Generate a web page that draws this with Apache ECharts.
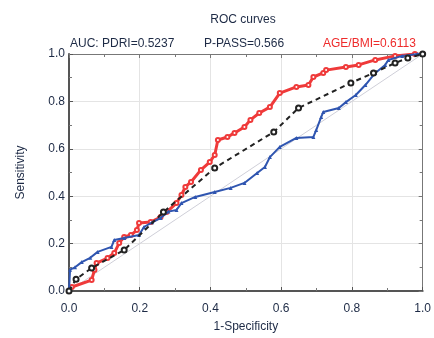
<!DOCTYPE html>
<html>
<head>
<meta charset="utf-8">
<script src="https://cdn.jsdelivr.net/npm/echarts@6/dist/echarts.min.js"></script>
<style>
  html, body { margin: 0; padding: 0; background: #fff; }
  #chart { width: 434px; height: 338px; }
</style>
</head>
<body>
<div id="chart"></div>
<script>
// ROC curve points [1-specificity, sensitivity]
const pdriPoints = [
  [0, 0], [0.003, 0.09], [0.017, 0.10], [0.036, 0.122], [0.06, 0.14], [0.081, 0.165],
  [0.12, 0.186], [0.128, 0.215], [0.156, 0.224], [0.198, 0.236], [0.212, 0.27],
  [0.235, 0.29], [0.259, 0.308], [0.281, 0.335], [0.304, 0.342], [0.318, 0.371],
  [0.357, 0.397], [0.412, 0.418], [0.457, 0.435], [0.496, 0.456], [0.532, 0.498],
  [0.554, 0.523], [0.568, 0.565], [0.596, 0.608], [0.643, 0.646], [0.691, 0.65],
  [0.699, 0.679], [0.713, 0.734], [0.719, 0.755], [0.763, 0.772], [0.783, 0.797],
  [0.811, 0.827], [0.838, 0.869], [0.866, 0.92], [0.894, 0.954], [0.903, 0.975],
  [0.942, 0.992], [0.986, 1.0], [1, 1]
];
const ppassPoints = [
  [0, 0], [0.02, 0.05], [0.064, 0.097], [0.156, 0.173], [0.267, 0.333],
  [0.412, 0.519], [0.579, 0.671], [0.649, 0.772], [0.797, 0.878],
  [0.861, 0.92], [0.922, 0.962], [0.958, 0.983], [1, 1]
];
const ageBmiPoints = [
  [0, 0], [0.008, 0.017], [0.064, 0.046], [0.072, 0.089], [0.078, 0.118],
  [0.109, 0.139], [0.128, 0.16], [0.142, 0.203], [0.156, 0.228], [0.175, 0.236],
  [0.192, 0.257], [0.198, 0.287], [0.231, 0.291], [0.259, 0.312], [0.276, 0.333],
  [0.304, 0.371], [0.318, 0.405], [0.329, 0.439], [0.345, 0.46], [0.373, 0.511],
  [0.398, 0.544], [0.412, 0.574], [0.421, 0.637], [0.448, 0.65], [0.468, 0.667],
  [0.496, 0.692], [0.513, 0.722], [0.538, 0.751], [0.568, 0.776], [0.596, 0.835],
  [0.643, 0.861], [0.677, 0.869], [0.691, 0.903], [0.719, 0.92], [0.727, 0.932],
  [0.783, 0.945], [0.819, 0.954], [0.866, 0.975], [0.922, 0.992], [0.978, 1.0], [1, 1]
];
const diagonal = [[0, 0], [1, 1]];

const textColor = "#1d2a45";
const fontName = "'Liberation Sans', Arial, sans-serif";

const myChart = echarts.init(document.getElementById("chart"));

function titleStyle(color) {
  return { fontSize: 12, fontWeight: "normal", color: color, fontFamily: fontName };
}

const option = {
  animation: false,
  textStyle: { fontFamily: fontName },
  title: [
    { text: "ROC curves", left: 238, top: 9, textAlign: "center", textStyle: titleStyle(textColor) },
    { text: "AUC: PDRI=0.5237", left: 65, top: 33, textStyle: titleStyle(textColor) },
    { text: "P-PASS=0.566", left: 239, top: 33, textAlign: "center", textStyle: titleStyle(textColor) },
    { text: "AGE/BMI=0.6113", left: 318, top: 33, textStyle: titleStyle("#ee2b2b") }
  ],
  grid: { left: 69, right: 6, top: 54, bottom: 47 },
  xAxis: [
    {
      type: "value", min: 0, max: 1, interval: 0.2,
      name: "1-Specificity", nameLocation: "middle", nameGap: 30,
      nameTextStyle: { fontSize: 12, color: textColor, fontFamily: fontName },
      axisLine: { lineStyle: { color: "#555", width: 2 } },
      axisTick: { inside: true, length: 4, lineStyle: { color: "#555" } },
      minorTick: { show: true, splitNumber: 2, length: 3, lineStyle: { color: "#777" } },
      axisLabel: { fontSize: 12, color: textColor, margin: 12, formatter: (v) => v.toFixed(1),
                   fontFamily: fontName },
      splitLine: { show: true, lineStyle: { color: "#e4e4e4" } }
    },
    {
      type: "value", position: "top", min: 0, max: 1, interval: 0.2,
      axisLine: { onZero: false, lineStyle: { color: "#777", width: 1 } },
      axisTick: { inside: true, length: 4, lineStyle: { color: "#777" } },
      minorTick: { show: true, splitNumber: 2, length: 3, lineStyle: { color: "#777" } },
      axisLabel: { show: false },
      splitLine: { show: false }
    }
  ],
  yAxis: [
    {
      type: "value", min: 0, max: 1, interval: 0.2,
      name: "Sensitivity", nameLocation: "middle", nameGap: 42,
      nameTextStyle: { fontSize: 12, color: textColor, fontFamily: fontName },
      axisLine: { show: true, lineStyle: { color: "#555", width: 2 } },
      axisTick: { show: true, inside: true, length: 4, lineStyle: { color: "#555" } },
      minorTick: { show: true, splitNumber: 2, length: 3, lineStyle: { color: "#777" } },
      axisLabel: { fontSize: 12, color: textColor, margin: 4, formatter: (v) => v.toFixed(1),
                   fontFamily: fontName },
      splitLine: { show: true, lineStyle: { color: "#e4e4e4" } }
    },
    {
      type: "value", position: "right", min: 0, max: 1, interval: 0.2,
      axisLine: { show: true, onZero: false, lineStyle: { color: "#777", width: 1 } },
      axisTick: { show: true, inside: true, length: 4, lineStyle: { color: "#777" } },
      minorTick: { show: true, splitNumber: 2, length: 3, lineStyle: { color: "#777" } },
      axisLabel: { show: false },
      splitLine: { show: false }
    }
  ],
  series: [
    {
      name: "reference", type: "line", data: diagonal, symbol: "none",
      lineStyle: { color: "#cfcfd8", width: 1 }, z: 1
    },
    {
      name: "PDRI", type: "line", data: pdriPoints, symbol: "triangle", symbolSize: 4,
      itemStyle: { color: "#2f55b0" },
      lineStyle: { color: "#2f55b0", width: 2 }, z: 3
    },
    {
      name: "P-PASS", type: "line", data: ppassPoints, symbol: "emptyCircle", symbolSize: 5,
      itemStyle: { color: "#222" },
      lineStyle: { color: "#222", width: 2, type: [5, 4] }, z: 4
    },
    {
      name: "AGE/BMI", type: "line", data: ageBmiPoints, symbol: "emptyCircle", symbolSize: 4,
      itemStyle: { color: "#ef3a3a" },
      lineStyle: { color: "#ef3a3a", width: 3 }, z: 2
    }
  ]
};

myChart.setOption(option);
</script>
</body>
</html>
